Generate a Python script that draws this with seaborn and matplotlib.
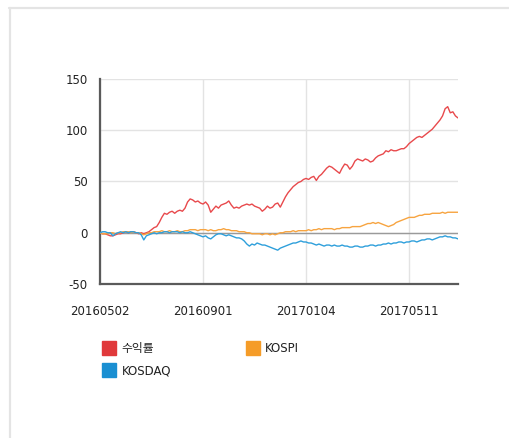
import matplotlib
matplotlib.use("Agg")
import matplotlib.pyplot as plt
import numpy as np
import pandas as pd
import seaborn as sns
from matplotlib.lines import Line2D

# values sampled every 2 trading days from 2016-05-02
returns = [
    0, -1, -1, -2, -3, -3, -2, -1, -1, 0,
    1, 0, 1, 1, 0, -1, 0, -1, 0, 1,
    3, 5, 6, 10, 15, 19, 18, 20, 21, 19,
    21, 22, 21, 24, 30, 33, 32, 30, 31, 29,
    28, 30, 27, 20, 23, 26, 24, 27, 28, 29,
    31, 27, 24, 25, 24, 26, 27, 28, 27, 28,
    26, 25, 24, 21, 23, 26, 24, 25, 28, 29,
    25, 30, 35, 39, 42, 45, 47, 49, 50, 52,
    53, 52, 54, 55, 51, 55, 57, 60, 63, 65,
    64, 62, 60, 58, 63, 67, 66, 62, 65, 70,
    72, 71, 70, 72, 71, 69, 70, 73, 75, 76,
    77, 80, 79, 81, 80, 80, 81, 82, 82, 84,
    87, 89, 91, 93, 94, 93, 95, 97, 99, 101,
    104, 107, 110, 114, 121, 123, 117, 118, 114, 112,
]
kospi = [
    0, -1, -1, -1, 0, 0, -1, 0, 0, 1,
    1, 1, 0, 1, 0, 0, -1, -2, -1, 0,
    0, 1, 1, 1, 2, 1, 1, 2, 1, 1,
    2, 1, 1, 2, 2, 3, 3, 3, 2, 3,
    3, 3, 2, 3, 2, 2, 3, 3, 4, 3,
    3, 2, 2, 2, 1, 1, 1, 0, 0, -1,
    -1, -1, -1, -2, -1, -1, -2, -1, -2, -1,
    0, 0, 1, 1, 1, 2, 1, 2, 2, 2,
    2, 3, 2, 3, 3, 4, 3, 4, 4, 4,
    4, 3, 4, 4, 5, 5, 5, 5, 6, 6,
    6, 6, 7, 8, 9, 9, 10, 9, 10, 9,
    8, 7, 6, 7, 8, 10, 11, 12, 13, 14,
    15, 15, 15, 16, 17, 17, 18, 18, 18, 19,
    19, 19, 19, 20, 19, 20, 20, 20, 20, 20,
]
kosdaq = [
    0, 1, 1, 0, 0, -3, -1, 0, 1, 0,
    1, 0, 1, 1, 0, 0, -2, -7, -3, -2,
    -1, 0, -1, 0, 0, 1, 1, 0, 1, 1,
    1, 0, 1, 0, 0, 1, 0, -1, -2, -3,
    -4, -3, -5, -6, -4, -2, -1, -1, -2, -3,
    -2, -3, -4, -5, -5, -6, -8, -11, -13, -11,
    -12, -10, -11, -12, -12, -13, -14, -15, -16, -17,
    -15, -14, -13, -12, -11, -10, -10, -9, -8, -9,
    -9, -10, -10, -11, -12, -11, -12, -13, -12, -12,
    -13, -12, -13, -13, -12, -13, -13, -14, -14, -13,
    -13, -14, -14, -13, -13, -12, -12, -13, -12, -12,
    -11, -11, -10, -11, -10, -10, -9, -9, -10, -9,
    -9, -8, -8, -9, -8, -7, -7, -6, -6, -7,
    -6, -5, -4, -4, -3, -4, -4, -5, -5, -6,
]
series_names = ["수익률", "KOSPI", "KOSDAQ"]
tick_labels = ["20160502", "20160901", "20170104", "20170511"]
tick_index = [0, 40, 80, 120]
y_ticks = [-50, 0, 50, 100, 150]

line_colors = {"수익률": "#e8494c", "KOSPI": "#f7a440", "KOSDAQ": "#2e9fdb"}
box_colors = {"수익률": "#e0393b", "KOSPI": "#f59c28", "KOSDAQ": "#1a8fd2"}

sns.set_style("white")
plt.rcParams["font.family"] = ["DejaVu Sans", "Noto Sans CJK KR"]
plt.rcParams["axes.unicode_minus"] = False

frames = []
for name, vals in zip(series_names, [returns, kospi, kosdaq]):
    frames.append(pd.DataFrame({"idx": np.arange(len(vals)), "value": vals, "series": name}))
df = pd.concat(frames, ignore_index=True)

fig = plt.figure(figsize=(5.09, 4.38), dpi=100)
ax = fig.add_axes([100 / 509, 1 - 284 / 438, 358 / 509, 205 / 438])

ax.grid(True, color="#e3e3e3", linewidth=1)
ax.axhline(0, color="#9a9a9a", linewidth=1, zorder=1.5)

sns.lineplot(data=df, x="idx", y="value", hue="series", hue_order=series_names,
             palette=line_colors, linewidth=1, legend=False, ax=ax, zorder=3)

ax.set_xlim(0, len(returns) - 1)
ax.set_ylim(-50, 150)
ax.set_xticks(tick_index)
ax.set_xticklabels(tick_labels)
ax.set_yticks(y_ticks)
ax.set_xlabel("")
ax.set_ylabel("")
ax.tick_params(axis="both", labelsize=8.5, colors="#222222", length=6, width=1.2,
               direction="out", pad=3)
ax.tick_params(axis="x", pad=9)
for side in ["top", "right"]:
    ax.spines[side].set_visible(False)
for side in ["left", "bottom"]:
    ax.spines[side].set_color("#5a5a5a")
    ax.spines[side].set_linewidth(1.6)

# legend: column-major fill, so order gives 수익률/KOSPI on row one
order = ["수익률", "KOSDAQ", "KOSPI"]
handles = [Line2D([], [], marker="s", linestyle="none", markersize=10,
                  markerfacecolor=box_colors[n], markeredgecolor=box_colors[n]) for n in order]
leg = fig.legend(handles, order, ncol=2, loc="upper left",
                 bbox_to_anchor=(96 / 509, 1 - 336 / 438), frameon=False,
                 fontsize=8.5, handlelength=1.2, handletextpad=0.45,
                 columnspacing=6.35, labelspacing=0.8, borderpad=0)
for t in leg.get_texts():
    t.set_color("#222222")

# light frame on top and left edge
fig.add_artist(Line2D([9 / 509, 1], [1 - 8 / 438, 1 - 8 / 438], color="#e4e4e4", linewidth=1.6))
fig.add_artist(Line2D([10 / 509, 10 / 509], [0, 1 - 8 / 438], color="#e4e4e4", linewidth=1.6))

fig.savefig("out.png", dpi=100)
